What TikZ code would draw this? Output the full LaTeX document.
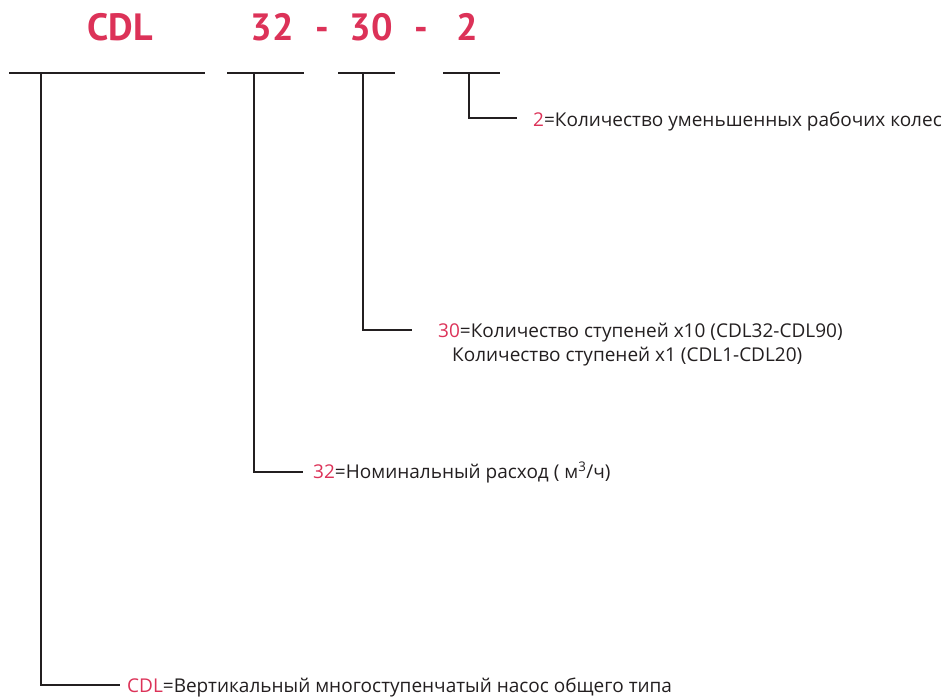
\documentclass[tikz,border=0pt]{standalone}
\usepackage{fontspec}
\setmainfont{Open Sans}
\newfontfamily\titlefont{PT Sans}
\definecolor{crim}{HTML}{DC3258}
\definecolor{ink}{HTML}{231F20}
\begin{document}
\begin{tikzpicture}[x=1pt,y=-1pt,
  bar/.style={draw=ink,line width=1.2pt},
  lead/.style={draw=ink,line width=1.2pt},
  title/.style={text=crim,font=\titlefont\fontsize{38}{40}\selectfont\bfseries,inner sep=0pt,anchor=base},
  desc/.style={text=ink,font=\fontsize{19}{22}\selectfont,inner sep=0pt,anchor=base west}]
\useasboundingbox (0,0) rectangle (944,698);
% title
\node[title] (tCDL) at (120,41) {CDL};
\node[title] (t32) at (272,41) {32};
\node[title] (d1) at (322,41) {-};
\node[title] (t30) at (371,41) {30};
\node[title] (d2) at (421,41) {-};
\node[title] (t2) at (467,41) {2};
% bars
\coordinate (b1a) at (9,73); \coordinate (b1b) at (205,73);
\coordinate (b2a) at (227,73); \coordinate (b2b) at (304,73);
\coordinate (b3a) at (338,73); \coordinate (b3b) at (395,73);
\coordinate (b4a) at (443,73); \coordinate (b4b) at (500,73);
\draw[bar] (b1a) -- (b1b);
\draw[bar] (b2a) -- (b2b);
\draw[bar] (b3a) -- (b3b);
\draw[bar] (b4a) -- (b4b);
% stems
\coordinate (s1) at (41,73); \coordinate (s2) at (254,73);
\coordinate (s3) at (363,73); \coordinate (s4) at (469,73);
% descriptions
\node[desc] (e4) at (533,126) {\textcolor{crim}{2}=Количество уменьшенных рабочих колес};
\node[desc] (e3) at (438,337) {\textcolor{crim}{30}=Количество ступеней x10 (CDL32-CDL90)};
\node[desc] (e3b) at (452,361) {Количество ступеней x1 (CDL1-CDL20)};
\node[desc] (e2) at (313,478) {\textcolor{crim}{32}=Номинальный расход ( м\textsuperscript{3}/ч)};
\node[desc] (e1) at (127,692) {\textcolor{crim}{CDL}=Вертикальный многоступенчатый насос общего типа};
% leaders
\coordinate (c4) at (469,118); \coordinate (f4) at (517,118);
\coordinate (c3) at (363,330); \coordinate (f3) at (412,330);
\coordinate (c2) at (254,472); \coordinate (f2) at (303,472);
\coordinate (c1) at (41,685); \coordinate (f1) at (120,685);
\draw[lead] (s4) -- (c4) -- (f4);
\draw[lead] (s3) -- (c3) -- (f3);
\draw[lead] (s2) -- (c2) -- (f2);
\draw[lead] (s1) -- (c1) -- (f1);
\end{tikzpicture}
\end{document}
